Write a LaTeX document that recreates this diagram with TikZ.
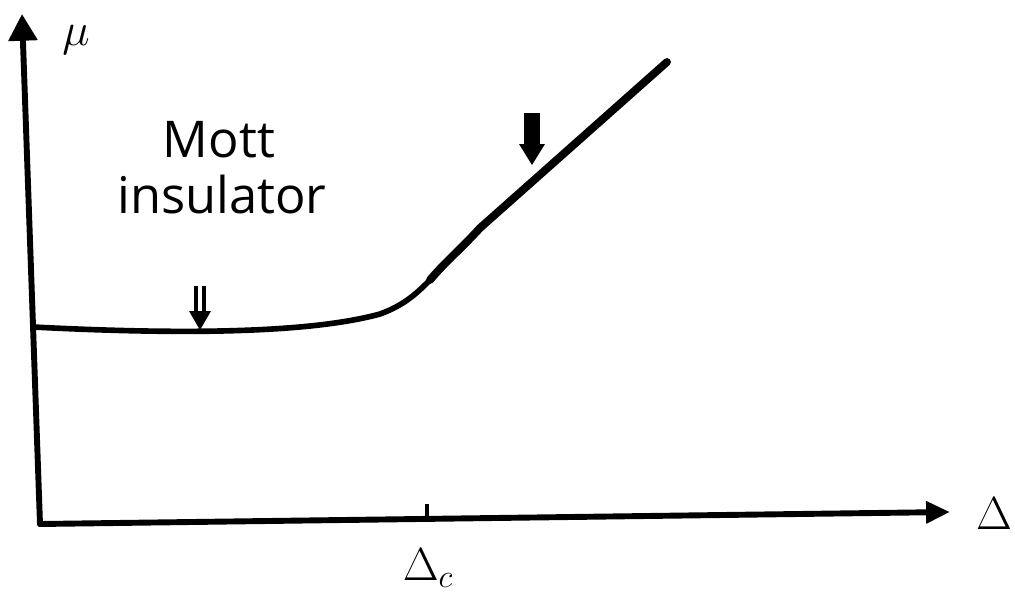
\RequirePackage{fix-cm}
\documentclass[tikz,border=0pt]{standalone}
\usepackage{fontspec}
\setsansfont{Open Sans}
\usepackage{tikz}
\usetikzlibrary{arrows.meta,positioning,calc}

\tikzset{
  axis/.style={line width=4.2pt, line cap=round},
  curve/.style={line width=4pt, line cap=round},
  lbl/.style={font=\sffamily\fontsize{36}{44}\selectfont, align=left},
  sym/.style={font=\fontsize{33}{33}\selectfont, inner sep=0pt}
}

\begin{document}
\begin{tikzpicture}[x=0.025cm, y=-0.025cm]
    \useasboundingbox (0,0) rectangle (1015,600);
    % axes
    \coordinate (O) at (40,524);
    \coordinate (ytop) at (22,14);
    \coordinate (xend) at (950,512);
    \draw[axis, -{Triangle[length=19pt, width=20pt]}] (O) -- (ytop);
    \draw[axis, -{Triangle[length=17pt, width=15pt]}] (O) -- (xend);
    \node[sym] (mu) at (76,40) {$\mu$};
    \node[sym] (delta) at (994,514) {$\Delta$};
    % critical point
    \coordinate (tick) at (427,518);
    \draw[line width=3pt] (tick) -- ++(0,-14);
    \node[sym] (deltac) at (428,568) {$\Delta_{\scriptstyle c}$};
    % phase boundary
    \coordinate (start) at (33,327);
    \coordinate (knee) at (430,280);
    \coordinate (stop) at (667,62);
    \draw[curve] (start) .. controls (150,333) and (300,336) .. (380,314)
      .. controls (405,305) and (418,292) .. (knee);
    \draw[curve, line width=5.6pt] (knee) .. controls (445,262) and (460,250) .. (480,228)
      -- (stop);
    \node[lbl] (mott) at (222,168) {\hspace*{0.9em}Mott\\[-4pt]insulator};
    % markers
    \coordinate (m1) at (200,330);
    \draw[line width=2.6pt] ($(m1)+(-4,-44)$) -- ($(m1)+(-4,-16)$);
    \draw[line width=2.6pt] ($(m1)+(4,-44)$) -- ($(m1)+(4,-16)$);
    \fill ($(m1)+(-11,-19)$) -- ($(m1)+(11,-19)$) -- (m1) -- cycle;
    \coordinate (m2) at (532,165);
    \fill ($(m2)+(-8,-52)$) rectangle ($(m2)+(8,-18)$);
    \fill ($(m2)+(-13,-21)$) -- ($(m2)+(13,-21)$) -- (m2) -- cycle;
\end{tikzpicture}
\end{document}
